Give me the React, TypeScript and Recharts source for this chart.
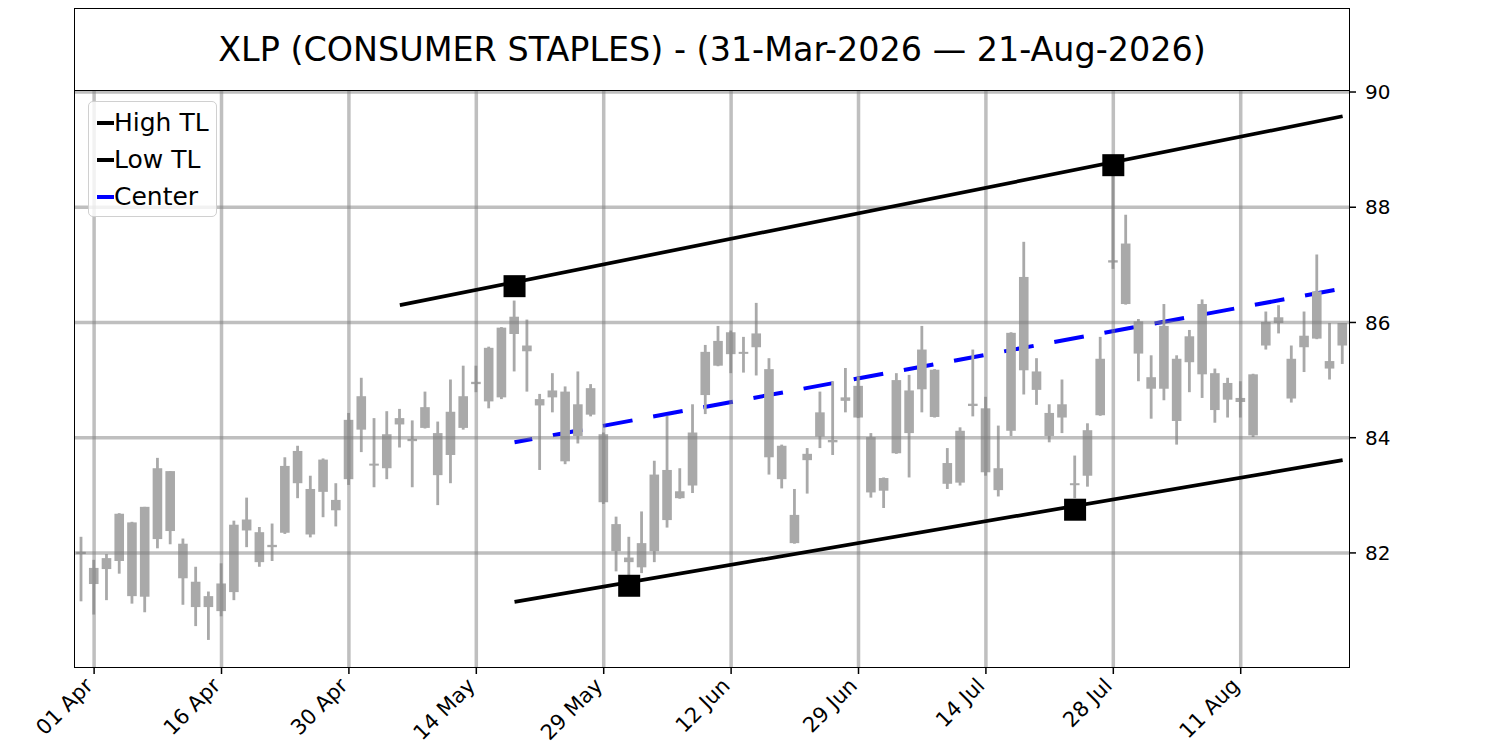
import React from 'react';
import { ComposedChart, Bar, Line, Scatter, XAxis, YAxis, ReferenceLine } from 'recharts';

const FONT = '"DejaVu Sans", sans-serif';
const CANDLE = '#a9a9a9';

// Trading days (31-Mar-2026 .. 21-Aug-2026)
const tradingDates = [
  '2026-03-31',
  '2026-04-01', '2026-04-02', '2026-04-06', '2026-04-07', '2026-04-08', '2026-04-09', '2026-04-10',
  '2026-04-13', '2026-04-14', '2026-04-15', '2026-04-16', '2026-04-17', '2026-04-20', '2026-04-21',
  '2026-04-22', '2026-04-23', '2026-04-24', '2026-04-27', '2026-04-28', '2026-04-29', '2026-04-30',
  '2026-05-01', '2026-05-04', '2026-05-05', '2026-05-06', '2026-05-07', '2026-05-08', '2026-05-11',
  '2026-05-12', '2026-05-13', '2026-05-14', '2026-05-15', '2026-05-18', '2026-05-19', '2026-05-20',
  '2026-05-21', '2026-05-22', '2026-05-26', '2026-05-27', '2026-05-28', '2026-05-29',
  '2026-06-01', '2026-06-02', '2026-06-03', '2026-06-04', '2026-06-05', '2026-06-08', '2026-06-09',
  '2026-06-10', '2026-06-11', '2026-06-12', '2026-06-15', '2026-06-16', '2026-06-17', '2026-06-18',
  '2026-06-22', '2026-06-23', '2026-06-24', '2026-06-25', '2026-06-26', '2026-06-29', '2026-06-30',
  '2026-07-01', '2026-07-02', '2026-07-06', '2026-07-07', '2026-07-08', '2026-07-09', '2026-07-10',
  '2026-07-13', '2026-07-14', '2026-07-15', '2026-07-16', '2026-07-17', '2026-07-20', '2026-07-21',
  '2026-07-22', '2026-07-23', '2026-07-24', '2026-07-27', '2026-07-28', '2026-07-29', '2026-07-30',
  '2026-07-31', '2026-08-03', '2026-08-04', '2026-08-05', '2026-08-06', '2026-08-07', '2026-08-10',
  '2026-08-11', '2026-08-12', '2026-08-13', '2026-08-14', '2026-08-17', '2026-08-18', '2026-08-19',
  '2026-08-20', '2026-08-21',
];

const opens = [
  81.98, 81.46, 81.72, 81.86, 81.25, 81.24, 82.24, 82.38, 82.16, 81.50,
  81.25, 80.99, 81.32, 82.58, 82.36, 82.10, 82.35, 83.77, 83.11, 83.06,
  82.92, 83.28, 84.14, 83.52, 83.47, 84.34, 83.94, 84.17, 84.08, 83.70,
  84.17, 84.93, 84.63, 84.70, 86.10, 85.60, 84.67, 84.70, 84.80, 84.03,
  84.40, 84.06, 82.50, 81.92, 81.75, 82.03, 82.57, 83.07, 83.17, 84.74,
  85.25, 85.83, 85.46, 85.57, 85.19, 83.86, 82.66, 83.61, 84.02, 83.96,
  84.64, 84.35, 84.01, 83.30, 83.73, 84.82, 84.84, 85.18, 83.56, 83.22,
  84.55, 84.51, 83.47, 84.12, 85.17, 85.15, 84.43, 84.35, 83.21, 83.34,
  84.39, 87.08, 86.32, 86.02, 85.05, 84.85, 85.37, 85.76, 85.10, 85.12,
  84.95, 84.62, 84.04, 85.60, 86.09, 85.37, 85.57, 85.72, 85.33, 85.60,
];
const closes = [
  82.02, 81.74, 81.91, 82.68, 82.53, 82.80, 83.47, 83.42, 81.56, 81.06,
  81.06, 81.47, 82.49, 82.39, 81.84, 82.14, 83.51, 83.21, 82.32, 83.62,
  82.74, 84.31, 84.72, 83.55, 84.06, 84.23, 83.98, 84.53, 83.35, 84.45,
  84.72, 84.97, 85.56, 85.91, 85.80, 85.50, 84.56, 84.82, 83.59, 84.58,
  84.86, 82.88, 82.03, 81.84, 82.17, 83.36, 83.44, 82.95, 84.09, 85.49,
  85.68, 85.45, 85.49, 85.81, 83.66, 83.28, 82.17, 83.72, 84.44, 83.92,
  84.70, 84.90, 83.05, 83.08, 85.00, 84.08, 85.53, 84.36, 83.20, 84.12,
  84.59, 83.40, 83.09, 85.82, 86.79, 84.83, 84.03, 84.58, 83.19, 84.13,
  85.37, 87.04, 87.37, 85.46, 84.85, 85.94, 84.29, 85.31, 86.32, 84.48,
  84.66, 84.69, 85.10, 86.01, 85.99, 84.68, 85.77, 86.54, 85.20, 85.99,
];
const highs = [
  82.28, 81.88, 81.98, 82.69, 82.54, 82.80, 83.65, 83.42, 82.25, 81.76,
  81.33, 81.82, 82.56, 82.96, 82.45, 82.51, 83.66, 83.86, 83.34, 83.64,
  83.21, 84.43, 85.04, 84.34, 84.46, 84.50, 84.30, 84.80, 84.28, 85.01,
  85.25, 85.25, 85.58, 85.92, 86.38, 86.05, 84.76, 85.12, 84.89, 85.15,
  84.93, 84.09, 82.63, 82.28, 82.72, 83.60, 84.38, 83.47, 84.58, 85.61,
  85.94, 85.86, 85.75, 86.34, 85.38, 83.88, 83.11, 83.82, 84.80, 84.98,
  85.21, 85.06, 84.08, 83.31, 85.12, 85.09, 85.94, 85.19, 83.82, 84.18,
  85.53, 84.71, 84.21, 85.83, 87.40, 85.38, 84.58, 85.01, 83.69, 84.25,
  85.75, 88.65, 87.87, 86.06, 85.43, 86.32, 85.43, 85.87, 86.40, 85.20,
  85.04, 84.98, 85.11, 86.19, 86.30, 85.60, 86.19, 87.18, 85.99, 85.99,
];
const lows = [
  81.16, 80.93, 81.18, 81.64, 81.12, 80.97, 82.08, 82.15, 81.10, 80.73,
  80.49, 80.90, 81.18, 82.10, 81.76, 81.86, 82.33, 82.95, 82.27, 82.62,
  82.46, 83.18, 83.75, 83.14, 83.28, 83.83, 83.14, 84.16, 82.83, 83.21,
  84.14, 84.79, 84.51, 84.67, 85.15, 84.80, 83.44, 84.44, 83.54, 83.90,
  84.37, 82.85, 81.68, 81.58, 81.65, 81.84, 82.44, 82.94, 83.04, 84.41,
  85.24, 85.12, 85.13, 85.08, 83.36, 83.12, 82.16, 83.03, 83.82, 83.70,
  84.44, 84.34, 82.96, 82.78, 83.72, 83.31, 84.44, 84.35, 83.11, 83.17,
  84.37, 83.34, 82.98, 84.03, 84.75, 84.57, 83.92, 84.08, 82.95, 83.15,
  84.38, 86.93, 86.31, 84.98, 84.33, 84.65, 83.88, 84.79, 84.69, 84.26,
  84.35, 84.35, 84.01, 85.53, 85.81, 84.61, 85.14, 85.71, 85.01, 85.28,
];

// Trend-line end points
const highTL = [
  { date: '2026-05-06', value: 86.3 },
  { date: '2026-08-21', value: 89.58 },
];
const lowTL = [
  { date: '2026-05-19', value: 81.15 },
  { date: '2026-08-21', value: 83.61 },
];
const centerTL = [
  { date: '2026-05-19', value: 83.92 },
  { date: '2026-08-21', value: 86.59 },
];
// Pivot markers
const highPivots = [
  { date: '2026-05-19', value: 86.63 },
  { date: '2026-07-28', value: 88.73 },
];
const lowPivots = [
  { date: '2026-06-02', value: 81.43 },
  { date: '2026-07-23', value: 82.75 },
];

const tickDates = [
  '2026-04-01', '2026-04-16', '2026-04-30', '2026-05-14', '2026-05-29',
  '2026-06-12', '2026-06-29', '2026-07-14', '2026-07-28', '2026-08-11',
];
const yTicks = [82, 84, 86, 88, 90];
const MONTHS = ['Jan', 'Feb', 'Mar', 'Apr', 'May', 'Jun', 'Jul', 'Aug', 'Sep', 'Oct', 'Nov', 'Dec'];

const fmtDate = (d: string) => `${d.slice(8, 10)} ${MONTHS[parseInt(d.slice(5, 7), 10) - 1]}`;
const idxOf = (d: string) => tradingDates.indexOf(d);
const lookup = (arr: { date: string; value: number }[], d: string) => {
  const f = arr.find((p) => p.date === d);
  return f ? f.value : null;
};

const rows = tradingDates.map((date, i) => ({
  idx: i,
  date,
  open: opens[i],
  close: closes[i],
  high: highs[i],
  low: lows[i],
  range: [lows[i], highs[i]],
  hiTL: lookup(highTL, date),
  loTL: lookup(lowTL, date),
  mid: lookup(centerTL, date),
}));

const pivotRows = [...highPivots, ...lowPivots].map((p) => ({ idx: idxOf(p.date), pivot: p.value }));
const xTicks = tickDates.map(idxOf);

const Candle = (props: any) => {
  const { x, y, width, height, payload } = props;
  if (!payload || x == null || y == null) return null;
  const top = Math.min(y, y + height);
  const bot = Math.max(y, y + height);
  const { high, low, open, close } = payload;
  const span = high - low;
  const py = (v: number) => (span === 0 ? top : top + ((high - v) / span) * (bot - top));
  const cx = x + width / 2;
  const bt = py(Math.max(open, close));
  const bb = py(Math.min(open, close));
  return (
    <g>
      <rect x={cx - 1.4} y={top} width={2.8} height={bot - top} fill={CANDLE} />
      <rect x={cx - 4.8} y={bt} width={9.6} height={Math.max(bb - bt, 2)} fill={CANDLE} />
    </g>
  );
};

const Square = (props: any) => {
  const { cx, cy } = props;
  if (cx == null || cy == null) return null;
  return <rect x={cx - 11} y={cy - 11} width={22} height={22} fill="#000" />;
};

const XTick = (props: any) => {
  const { x, y, payload } = props;
  const label = fmtDate(tradingDates[payload.value]);
  return (
    <text
      transform={`translate(${x},${y + 11}) rotate(-45)`}
      textAnchor="end"
      fontSize={21}
      fontFamily={FONT}
      fill="#000"
    >
      {label}
    </text>
  );
};

const gridStyle = { stroke: '#808080', strokeOpacity: 0.5, strokeWidth: 3.5 };

const legendItems = [
  { label: 'High TL', color: '#000' },
  { label: 'Low TL', color: '#000' },
  { label: 'Center', color: '#0000ff' },
];

export default function App() {
  return (
    <div style={{ position: 'absolute', left: 0, top: 0, width: 1500, height: 750, background: '#fff', fontFamily: FONT }}>
      <ComposedChart
        width={1500}
        height={750}
        data={rows}
        margin={{ top: 90, right: 91, bottom: 0, left: 75 }}
      >
        <XAxis
          dataKey="idx"
          type="number"
          domain={[-0.5, 99.5]}
          ticks={xTicks}
          allowDataOverflow
          height={83}
          axisLine={false}
          tickLine={{ stroke: '#000', strokeWidth: 1.5 }}
          tickSize={7}
          tick={<XTick />}
          interval={0}
        />
        <YAxis
          orientation="right"
          type="number"
          domain={[80.02, 90.035]}
          ticks={yTicks}
          allowDataOverflow
          width={60}
          axisLine={false}
          tickLine={{ stroke: '#000', strokeWidth: 1.5 }}
          tickSize={7}
          tickMargin={9}
          tick={{ fontSize: 20, fill: '#000', fontFamily: FONT }}
        />
        <Line
          dataKey="mid"
          connectNulls
          dot={false}
          stroke="#0000ff"
          strokeWidth={4}
          strokeDasharray="30 21"
          strokeDashoffset={12}
          isAnimationActive={false}
          zIndex={250}
        />
        <Bar dataKey="range" barSize={10} shape={<Candle />} isAnimationActive={false} zIndex={300} />
        {yTicks.map((t) => (
          <ReferenceLine key={`gy${t}`} y={t} {...gridStyle} zIndex={350} />
        ))}
        {xTicks.map((t) => (
          <ReferenceLine key={`gx${t}`} x={t} {...gridStyle} zIndex={350} />
        ))}
        <Line dataKey="hiTL" connectNulls dot={false} stroke="#000" strokeWidth={3.7} isAnimationActive={false} zIndex={400} />
        <Line dataKey="loTL" connectNulls dot={false} stroke="#000" strokeWidth={3.7} isAnimationActive={false} zIndex={400} />
        <Scatter data={pivotRows} dataKey="pivot" shape={<Square />} isAnimationActive={false} zIndex={600} />
      </ComposedChart>

      {/* plot frame */}
      <div
        style={{
          position: 'absolute', left: 74, top: 89, width: 1276, height: 579,
          border: '1.5px solid #000', boxSizing: 'border-box', pointerEvents: 'none',
        }}
      />
      {/* title box */}
      <div
        style={{
          position: 'absolute', left: 74, top: 8, width: 1276, height: 83,
          border: '1.5px solid #000', boxSizing: 'border-box', background: '#fff',
          display: 'flex', alignItems: 'center', justifyContent: 'center',
          fontSize: 33.4, color: '#000', fontFamily: FONT,
        }}
      >
        XLP (CONSUMER STAPLES) - (31-Mar-2026 — 21-Aug-2026)
      </div>
      {/* legend */}
      <div
        style={{
          position: 'absolute', left: 88, top: 101, width: 129, height: 116,
          border: '1.5px solid #d0d0d0', borderRadius: 5, boxSizing: 'border-box',
          background: 'rgba(255,255,255,0.8)', padding: '2px 0 0 8px',
        }}
      >
        {legendItems.map((it) => (
          <div key={it.label} style={{ display: 'flex', alignItems: 'center', height: 37, fontSize: 25, color: '#000', lineHeight: 1 }}>
            <span style={{ display: 'inline-block', width: 17, height: 4, background: it.color }} />
            <span>{it.label}</span>
          </div>
        ))}
      </div>
    </div>
  );
}
